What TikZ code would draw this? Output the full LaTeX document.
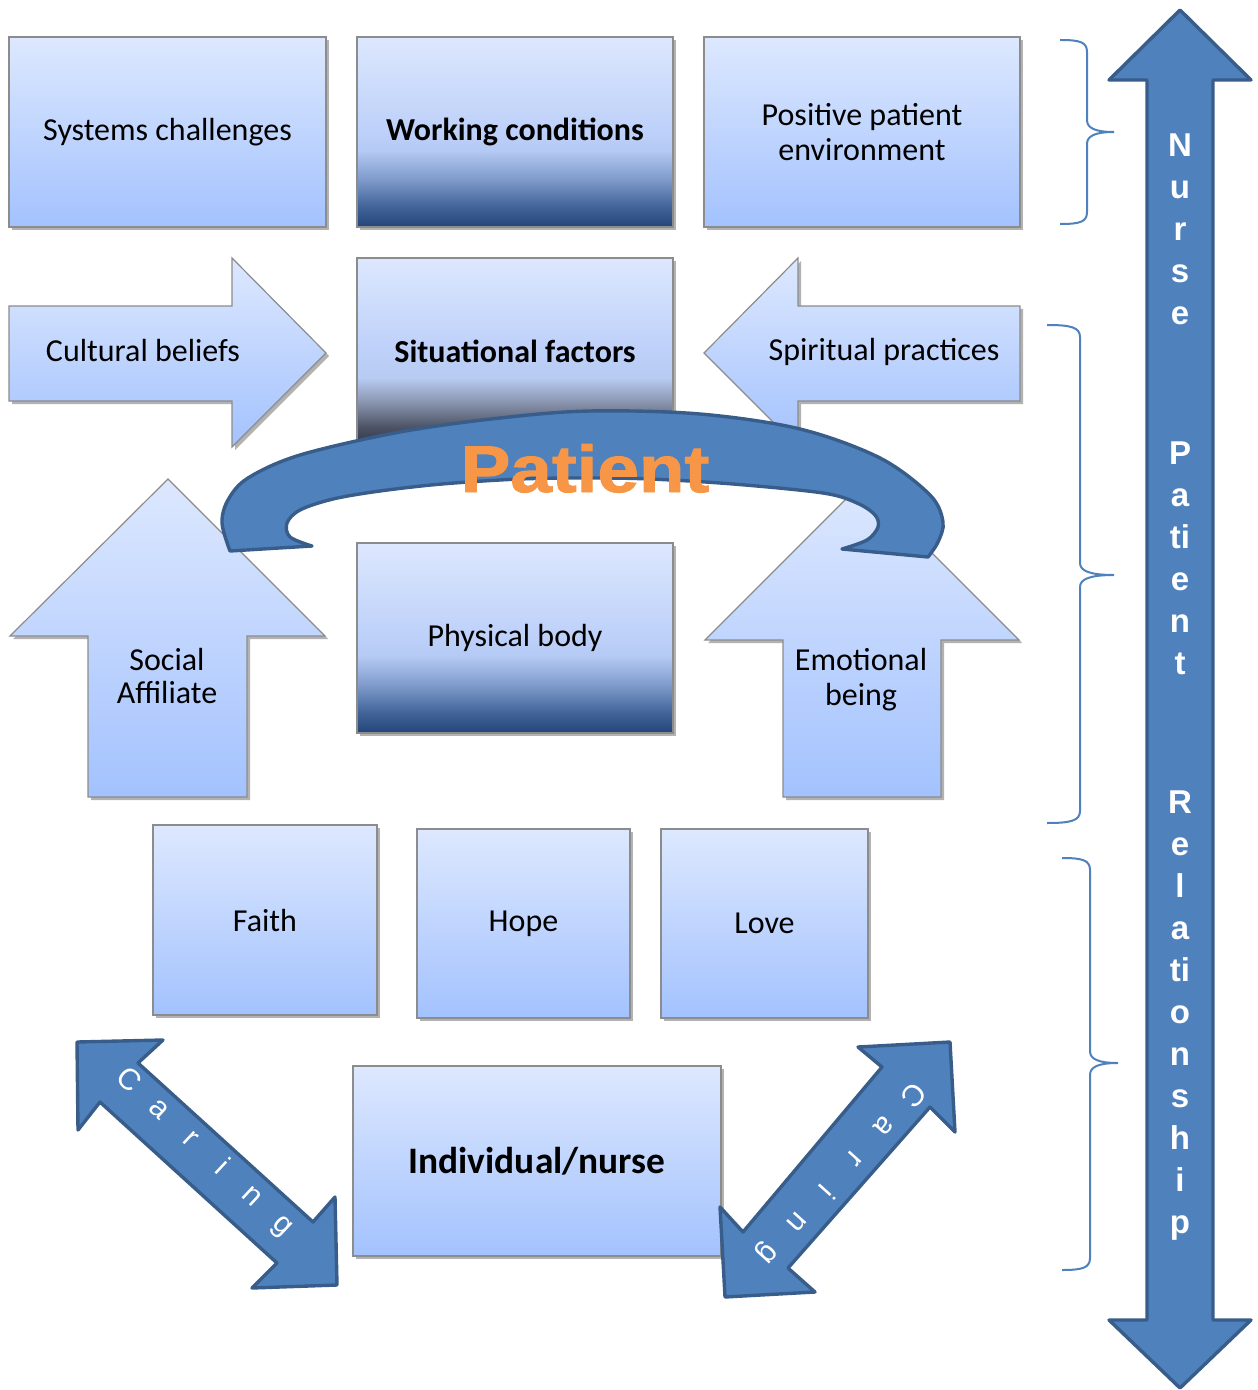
\documentclass[tikz,border=0pt]{standalone}
\usepackage{fontspec}
\setmainfont{Carlito}
\newfontfamily\arialfont{Liberation Sans}
\newfontfamily\patfont[FakeBold=1.5]{Liberation Sans}
\usetikzlibrary{shadows,calc}
\definecolor{boxtop}{HTML}{DDE8FE}
\definecolor{boxbot}{HTML}{A3C2FE}
\definecolor{boxmid}{HTML}{BDD0F9}
\definecolor{arrblue}{HTML}{4F81BD}
\definecolor{arredge}{HTML}{385D8A}
\definecolor{patorange}{HTML}{F79646}
\definecolor{boxedge}{HTML}{8C8C8C}
\pgfdeclareverticalshading{lightshade}{100bp}{color(0bp)=(boxbot); color(25bp)=(boxbot); color(75bp)=(boxtop); color(100bp)=(boxtop)}
\pgfdeclareverticalshading{darkshade}{100bp}{color(0bp)=(rgb,255:red,34;green,69;blue,122); color(25bp)=(rgb,255:red,34;green,69;blue,122); color(30bp)=(rgb,255:red,63;green,97;blue,150); color(37.5bp)=(rgb,255:red,126;green,154;blue,203); color(45bp)=(rgb,255:red,180;green,201;blue,243); color(50bp)=(boxmid); color(75bp)=(boxtop); color(100bp)=(boxtop)}
\pgfdeclareverticalshading{sitshade}{100bp}{color(0bp)=(rgb,255:red,47;green,52;blue,66); color(25bp)=(rgb,255:red,47;green,52;blue,66); color(30bp)=(rgb,255:red,79;green,85;blue,103); color(37bp)=(rgb,255:red,142;green,154;blue,181); color(43bp)=(rgb,255:red,184;green,203;blue,242); color(50bp)=(boxmid); color(75bp)=(boxtop); color(100bp)=(boxtop)}
\begin{document}
\begin{tikzpicture}[x=0.5pt,y=-0.5pt,
  sdrop/.style={drop shadow={shadow xshift=1.5pt, shadow yshift=-1.5pt, opacity=0.3, fill=black}},
  txt/.style={font=\fontsize{16}{17.5}\selectfont, align=center, text=black},
  boldtxt/.style={font=\fontsize{16}{17.5}\selectfont\bfseries, align=center, text=black},
  box/.style 2 args={draw=boxedge, line width=0.6pt, shade, shading=lightshade, sdrop, minimum width=#1pt, minimum height=#2pt, inner sep=0pt},
  dbox/.style 2 args={box={#1}{#2}, shading=darkshade},
  sbox/.style 2 args={box={#1}{#2}, shading=sitshade},
  shapearrow/.style={draw=boxedge, line width=0.6pt, shade, shading=lightshade, sdrop},
  band/.style={fill=arrblue, draw=arredge, line width=1.7pt, line join=round},
  brace/.style={draw=arrblue, line width=1pt},
  vlet/.style={font=\arialfont\bfseries\fontsize{16.5}{16.5}\selectfont, text=white, anchor=base, inner sep=0pt},
  carlet/.style={font=\arialfont\fontsize{15}{15}\selectfont, text=white, anchor=mid, inner sep=0pt}
]
\useasboundingbox (0,0) rectangle (1257,1390);

% row 1
\node[box={158.5}{95}, txt] (sys) at (167.5,132) {Systems challenges};
\node[dbox={158}{95}, boldtxt] (work) at (515,132) {Working conditions};
\node[box={158}{95}, txt] (pos) at (862,132) {Positive patient\\environment};

% row 2
\node[sbox={158}{93.5}, boldtxt] (sit) at (515,351.5) {Situational factors};
\path[shapearrow] (9,306) -- (232,306) -- (232,258) -- (326,353) -- (232,447) -- (232,401) -- (9,401) -- cycle;
\node[txt] (cult) at (143,351) {Cultural beliefs};
\path[shapearrow] (1020,306) -- (798,306) -- (798,258) -- (704,353) -- (798,447) -- (798,401) -- (1020,401) -- cycle;
\node[txt] (spir) at (884,352) {Spiritual practices};

% row 3
\path[shapearrow] (168,479) -- (325,636) -- (247,636) -- (247,797) -- (88,797) -- (88,636) -- (10,636) -- cycle;
\node[txt, font=\fontsize{16}{16.5}\selectfont] (soc) at (167,676) {Social\\Affiliate};
\path[shapearrow] (862,483) -- (1019,640) -- (941,640) -- (941,797) -- (783,797) -- (783,640) -- (705,640) -- cycle;
\node[txt] (emo) at (861,680) {Emotional\\being};
\node[dbox={158}{95}, txt] (phys) at (515,638) {Physical body};

% patient curved band
\path[band] plot[smooth, tension=0.55] coordinates {(230,551) (222,523) (228,500) (248,478) (300,455) (400,432) (500,418) (590,411) (700,414) (800,429) (880,458) (930,495) (943,522) (938,542) (928,557)}
  -- plot[smooth, tension=0.55] coordinates {(842,549) (867,540) (878,527) (875,515) (857,503) (823,493) (733,484) (650,479) (588,478) (520,479) (442,484) (380,491) (333,499) (300,510) (287,523) (290,537) (312,546)} -- cycle;
\node[font=\patfont\bfseries\fontsize{33}{33}\selectfont, text=patorange, anchor=base, xscale=1.13, inner sep=0pt] (pat) at (585,492) {Patient};

% row 4
\node[box={112}{95}, txt] (faith) at (265,920) {Faith};
\node[box={106.5}{94.5}, txt] (hope) at (523.5,923.5) {Hope};
\node[box={103.5}{94.5}, txt] (love) at (764.5,923.5) {Love};

% row 5
\node[box={184}{95}, font=\fontsize{18.7}{20}\selectfont\bfseries] (ind) at (537,1161) {Individual/nurse};

% caring arrows
\path[band] (77,1042) -- (163,1040) -- (138,1063) -- (313,1222) -- (335,1197) -- (337,1285) -- (252,1288) -- (277,1263) -- (100,1102) -- (78,1130) -- cycle;
\foreach \ch [count=\k from 0] in {C,a,r,i,n,g}
  \node[carlet, rotate=-43] (cl\k) at ({126+31*\k},{1083+29*\k}) {\ch};
\path[band] (950,1042) -- (955,1132) -- (930,1107) -- (788,1268) -- (815,1292) -- (725,1297) -- (720,1207) -- (743,1232) -- (882,1067) -- (858,1047) -- cycle;
\foreach \ch [count=\k from 0] in {C,a,r,i,n,g}
  \node[carlet, rotate=-132] (cr\k) at ({910-29*\k},{1092+32*\k}) {\ch};

% vertical double arrow
\path[band] (1180,10) -- (1251,80) -- (1213,80) -- (1213,1320) -- (1251,1320) -- (1180,1388) -- (1109,1320) -- (1147,1320) -- (1147,80) -- (1109,80) -- cycle;
\foreach \ch [count=\k from 0] in {N,u,r,s,e}
  \node[vlet] (vn\k) at (1180,{157+42*\k}) {\ch};
\foreach \ch [count=\k from 0] in {P,a,ti,e,n,t}
  \node[vlet] (vp\k) at (1180,{464+42*\k}) {\ch};
\foreach \ch [count=\k from 0] in {R,e,l,a,ti,o,n,s,h,i,p}
  \node[vlet] (vr\k) at (1180,{813.5+42*\k}) {\ch};

% braces
\draw[brace] (1060,40) .. controls (1080,40) and (1087,42) .. (1087,52) -- (1087,120) .. controls (1087,128) and (1095,132) .. (1114,132) .. controls (1095,132) and (1087,136) .. (1087,144) -- (1087,212) .. controls (1087,222) and (1080,224) .. (1060,224);
\draw[brace] (1047,325) .. controls (1070,325) and (1080,327) .. (1080,337) -- (1080,563) .. controls (1080,571) and (1090,575) .. (1114,575) .. controls (1090,575) and (1080,579) .. (1080,587) -- (1080,811) .. controls (1080,821) and (1070,823) .. (1047,823);
\draw[brace] (1062,858) .. controls (1082,858) and (1090,860) .. (1090,870) -- (1090,1051) .. controls (1090,1059) and (1098,1063) .. (1118,1063) .. controls (1098,1063) and (1090,1067) .. (1090,1075) -- (1090,1258) .. controls (1090,1268) and (1082,1270) .. (1062,1270);
\end{tikzpicture}
\end{document}
